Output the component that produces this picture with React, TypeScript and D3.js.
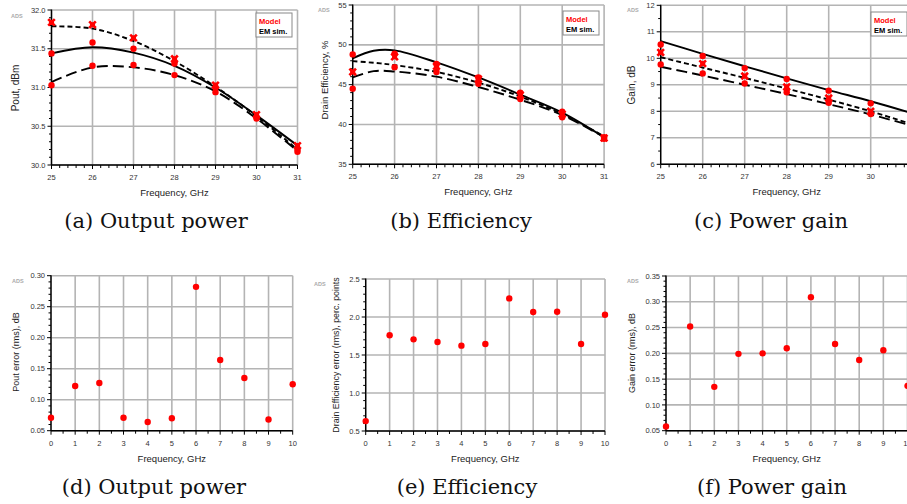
import React from "react";
import * as d3 from "d3";

// ---- top row: large-signal sweeps over frequency (GHz) ----
const freqGHz = [25, 26, 27, 28, 29, 30, 31];
const effCurveGHz = [25, 25.5, 26, 27, 28, 29, 30, 31];
const gainPointGHz = [25, 26, 27, 28, 29, 30];

// (a) output power, dBm
const poutSimShort = [31.79, 31.76, 31.6, 31.34, 31.01, 30.63, 30.2];
const poutSimSolid = [31.44, 31.52, 31.45, 31.28, 31.0, 30.64, 30.25];
const poutSimLong = [31.07, 31.26, 31.26, 31.16, 30.95, 30.6, 30.18];
const poutModelHigh = [31.84, 31.81, 31.64, 31.37, 31.03, 30.65, 30.25];
const poutModelMid = [31.44, 31.58, 31.5, 31.31, 31.0, 30.62, 30.2];
const poutModelLow = [31.03, 31.28, 31.29, 31.16, 30.94, 30.6, 30.17];

// (b) drain efficiency, %
const effSimSolid = [48.3, 49.25, 49.3, 47.8, 45.9, 43.75, 41.5, 38.4];
const effSimShort = [47.95, 47.75, 47.45, 46.6, 45.25, 43.5, 41.3, 38.5];
const effSimLong = [45.9, 46.7, 46.65, 46.0, 44.7, 43.1, 41.2, 38.4];
const effModelHigh = [48.8, 48.9, 47.6, 45.9, 44.0, 41.6, 38.4];
const effModelMid = [46.6, 48.5, 47.3, 45.7, 43.7, 41.3, 38.3];
const effModelLow = [44.5, 47.2, 46.6, 45.1, 43.2, 40.9, 38.2];

// (c) power gain, dB
const gainSimSolid = [10.65, 10.17, 9.7, 9.24, 8.8, 8.38, 7.92];
const gainSimShort = [10.04, 9.65, 9.26, 8.86, 8.44, 8.0, 7.5];
const gainSimLong = [9.68, 9.35, 9.0, 8.65, 8.27, 7.88, 7.45];
const gainModelHigh = [10.52, 10.09, 9.63, 9.22, 8.78, 8.3];
const gainModelMid = [10.22, 9.8, 9.33, 8.92, 8.5, 8.0];
const gainModelLow = [9.77, 9.43, 9.05, 8.72, 8.32, 7.9];

// ---- bottom row: rms errors ----
const errFreq = [0, 1, 2, 3, 4, 5, 6, 7, 8, 9, 10];
const poutErr = [0.071, 0.122, 0.127, 0.071, 0.064, 0.07, 0.282, 0.164, 0.135, 0.068, 0.125];
const effErr = [0.63, 1.76, 1.706, 1.671, 1.623, 1.645, 2.245, 2.066, 2.07, 1.645, 2.03];
const gainErr = [0.058, 0.252, 0.135, 0.199, 0.2, 0.21, 0.309, 0.218, 0.187, 0.206, 0.137];

const RED = "#ff0000";
const SANS = "'Liberation Sans', Arial, sans-serif";

type Curve = { xs: number[]; ys: number[]; dash: string | null };
type Pts = { xs: number[]; ys: number[]; shape: "circle" | "x" };

type PanelDef = {
  left: number; right: number; top: number; bottom: number;
  xDomain: [number, number]; xStep: number; xMinor: number;
  yDomain: [number, number]; yStep: number; yMinor: number; yFmt: string;
  curves: Curve[]; points: Pts[];
  legend: [number, number] | null;
  ads: [number, number];
  yTitle: string; yTitleX: number; yTitleY: number; yTitleSize: number;
  caption: string; capX: number; capY: number;
};

const SHORT = "5 3";
const LONG = "11 5";

const panels: PanelDef[] = [
  {
    left: 51.5, right: 297.5, top: 10, bottom: 165,
    xDomain: [25, 31], xStep: 1, xMinor: 4,
    yDomain: [30, 32], yStep: 0.5, yMinor: 4, yFmt: ".1f",
    curves: [
      { xs: freqGHz, ys: poutSimShort, dash: SHORT },
      { xs: freqGHz, ys: poutSimSolid, dash: null },
      { xs: freqGHz, ys: poutSimLong, dash: LONG },
    ],
    points: [
      { xs: freqGHz, ys: poutModelMid, shape: "circle" },
      { xs: freqGHz, ys: poutModelLow, shape: "circle" },
      { xs: freqGHz, ys: poutModelHigh, shape: "x" },
    ],
    legend: [256, 13], ads: [11, 18],
    yTitle: "Pout, dBm", yTitleX: 19, yTitleY: 88, yTitleSize: 10,
    caption: "(a) Output power", capX: 156, capY: 228,
  },
  {
    left: 352.7, right: 604.1, top: 5, bottom: 164.3,
    xDomain: [25, 31], xStep: 1, xMinor: 4,
    yDomain: [35, 55], yStep: 5, yMinor: 4, yFmt: "d",
    curves: [
      { xs: effCurveGHz, ys: effSimSolid, dash: null },
      { xs: effCurveGHz, ys: effSimShort, dash: SHORT },
      { xs: effCurveGHz, ys: effSimLong, dash: LONG },
    ],
    points: [
      { xs: freqGHz, ys: effModelHigh, shape: "circle" },
      { xs: freqGHz, ys: effModelLow, shape: "circle" },
      { xs: freqGHz, ys: effModelMid, shape: "x" },
    ],
    legend: [563, 11], ads: [318, 12],
    yTitle: "Drain Efficiency, %", yTitleX: 328, yTitleY: 80, yTitleSize: 9.5,
    caption: "(b) Efficiency", capX: 461, capY: 228,
  },
  {
    left: 660.7, right: 912.7, top: 5.3, bottom: 164.3,
    xDomain: [25, 31], xStep: 1, xMinor: 4,
    yDomain: [6, 12], yStep: 1, yMinor: 1, yFmt: "d",
    curves: [
      { xs: freqGHz, ys: gainSimSolid, dash: null },
      { xs: freqGHz, ys: gainSimShort, dash: SHORT },
      { xs: freqGHz, ys: gainSimLong, dash: LONG },
    ],
    points: [
      { xs: gainPointGHz, ys: gainModelHigh, shape: "circle" },
      { xs: gainPointGHz, ys: gainModelLow, shape: "circle" },
      { xs: gainPointGHz, ys: gainModelMid, shape: "x" },
    ],
    legend: [871, 12], ads: [627, 12],
    yTitle: "Gain, dB", yTitleX: 635, yTitleY: 85, yTitleSize: 10,
    caption: "(c) Power gain", capX: 771, capY: 228,
  },
  {
    left: 51, right: 292.7, top: 275.7, bottom: 430.7,
    xDomain: [0, 10], xStep: 1, xMinor: 1,
    yDomain: [0.05, 0.3], yStep: 0.05, yMinor: 4, yFmt: ".2f",
    curves: [],
    points: [{ xs: errFreq, ys: poutErr, shape: "circle" }],
    legend: null, ads: [12, 283],
    yTitle: "Pout error (rms), dB", yTitleX: 19, yTitleY: 352, yTitleSize: 9,
    caption: "(d) Output power", capX: 154, capY: 494,
  },
  {
    left: 365.7, right: 605, top: 279, bottom: 431,
    xDomain: [0, 10], xStep: 1, xMinor: 1,
    yDomain: [0.5, 2.5], yStep: 0.5, yMinor: 4, yFmt: ".1f",
    curves: [],
    points: [{ xs: errFreq, ys: effErr, shape: "circle" }],
    legend: null, ads: [314, 286],
    yTitle: "Drain Efficiency error (rms), perc. points", yTitleX: 339, yTitleY: 355, yTitleSize: 8.8,
    caption: "(e) Efficiency", capX: 467, capY: 494,
  },
  {
    left: 666, right: 907.5, top: 276, bottom: 430.7,
    xDomain: [0, 10], xStep: 1, xMinor: 1,
    yDomain: [0.05, 0.35], yStep: 0.05, yMinor: 4, yFmt: ".2f",
    curves: [],
    points: [{ xs: errFreq, ys: gainErr, shape: "circle" }],
    legend: null, ads: [627, 283],
    yTitle: "Gain error (rms), dB", yTitleX: 635, yTitleY: 353, yTitleSize: 9,
    caption: "(f) Power gain", capX: 772, capY: 494,
  },
];

function stepValues(d: [number, number], step: number, minor: number) {
  const n = Math.round((d[1] - d[0]) / step);
  const major = d3.range(n + 1).map((i) => d[0] + i * step);
  const minors: number[] = [];
  for (let i = 0; i < n; i++) {
    for (let k = 1; k <= minor; k++) minors.push(d[0] + i * step + (k * step) / (minor + 1));
  }
  return { major, minors };
}

function Panel({ p }: { p: PanelDef }) {
  const x = d3.scaleLinear().domain(p.xDomain).range([p.left, p.right]);
  const y = d3.scaleLinear().domain(p.yDomain).range([p.bottom, p.top]);
  const xs = stepValues(p.xDomain, p.xStep, p.xMinor);
  const ys = stepValues(p.yDomain, p.yStep, p.yMinor);
  const fmt = d3.format(p.yFmt);

  const curvePath = (c: Curve) =>
    d3
      .line<[number, number]>()
      .x((d) => x(d[0]))
      .y((d) => y(d[1]))
      .curve(d3.curveCatmullRom.alpha(0.5))(c.xs.map((v, i) => [v, c.ys[i]]));

  return (
    <g>
      {/* grid */}
      {xs.major.map((v) => (
        <line key={"gx" + v} x1={x(v)} x2={x(v)} y1={p.top} y2={p.bottom} stroke="#b4b4b4" strokeWidth={1.6} />
      ))}
      {ys.major.map((v) => (
        <line key={"gy" + v} x1={p.left} x2={p.right} y1={y(v)} y2={y(v)} stroke="#b4b4b4" strokeWidth={1.6} />
      ))}
      {/* axes */}
      <line x1={p.left} x2={p.left} y1={p.top - 0.5} y2={p.bottom} stroke="#000" strokeWidth={1.4} />
      <line x1={p.left} x2={p.right} y1={p.bottom} y2={p.bottom} stroke="#000" strokeWidth={1.4} />
      {ys.major.map((v) => (
        <g key={"ty" + v}>
          <line x1={p.left - 4} x2={p.left} y1={y(v)} y2={y(v)} stroke="#000" strokeWidth={1} />
          <text x={p.left - 6} y={y(v)} dy="0.35em" textAnchor="end" fontSize={7.5} fontFamily={SANS} fill="#333">
            {fmt(v)}
          </text>
        </g>
      ))}
      {ys.minors.map((v, i) => (
        <line key={"my" + i} x1={p.left - 2.5} x2={p.left} y1={y(v)} y2={y(v)} stroke="#000" strokeWidth={1} />
      ))}
      {xs.major.map((v) => (
        <g key={"tx" + v}>
          <line x1={x(v)} x2={x(v)} y1={p.bottom} y2={p.bottom + 4} stroke="#000" strokeWidth={1} />
          <text x={x(v)} y={p.bottom + 15} textAnchor="middle" fontSize={7.5} fontFamily={SANS} fill="#333">
            {v}
          </text>
        </g>
      ))}
      {xs.minors.map((v, i) => (
        <line key={"mx" + i} x1={x(v)} x2={x(v)} y1={p.bottom} y2={p.bottom + 3} stroke="#000" strokeWidth={1} />
      ))}
      {/* simulated curves */}
      {p.curves.map((c, i) => (
        <path
          key={"c" + i}
          d={curvePath(c) || ""}
          fill="none"
          stroke="#000"
          strokeWidth={1.9}
          strokeDasharray={c.dash || undefined}
        />
      ))}
      {/* model points */}
      {p.points.map((s, si) =>
        s.xs.map((v, i) =>
          s.shape === "circle" ? (
            <circle key={"p" + si + "-" + i} cx={x(v)} cy={y(s.ys[i])} r={3.2} fill={RED} />
          ) : (
            <g key={"p" + si + "-" + i} transform={`translate(${x(v)},${y(s.ys[i])})`}>
              <circle r={2.6} fill={RED} />
              <path d="M-3.3,-3.3L3.3,3.3M-3.3,3.3L3.3,-3.3" stroke={RED} strokeWidth={2.6} />
            </g>
          )
        )
      )}
      {/* legend */}
      {p.legend && (
        <g transform={`translate(${p.legend[0]},${p.legend[1]})`}>
          <rect width={36} height={24} fill="#fff" stroke="#888" strokeWidth={1} />
          <text x={3} y={10.5} fontSize={7.5} fontWeight="bold" fontFamily={SANS} fill={RED}>
            Model
          </text>
          <text x={3} y={21} fontSize={7.5} fontWeight="bold" fontFamily={SANS} fill="#000">
            EM sim.
          </text>
        </g>
      )}
      <text x={p.ads[0]} y={p.ads[1]} fontSize={5.5} fontWeight="bold" fontFamily={SANS} fill="#aaa">
        ADS
      </text>
      <text
        transform={`translate(${p.yTitleX},${p.yTitleY}) rotate(-90)`}
        textAnchor="middle"
        fontSize={p.yTitleSize}
        fontFamily={SANS}
        fill="#222"
      >
        {p.yTitle}
      </text>
      <text
        x={(p.left + p.right) / 2}
        y={p.bottom + 31}
        textAnchor="middle"
        fontSize={9.5}
        fontFamily={SANS}
        fill="#222"
      >
        Frequency, GHz
      </text>
      <text x={p.capX} y={p.capY} textAnchor="middle" fontSize={21} fontFamily="'DejaVu Serif', serif" fill="#111">
        {p.caption}
      </text>
    </g>
  );
}

export default function App() {
  return (
    <svg
      width={907}
      height={504}
      style={{ position: "absolute", left: 0, top: 0, background: "#fff" }}
    >
      <rect width={907} height={504} fill="#fff" />
      {panels.map((p, i) => (
        <Panel key={i} p={p} />
      ))}
    </svg>
  );
}
